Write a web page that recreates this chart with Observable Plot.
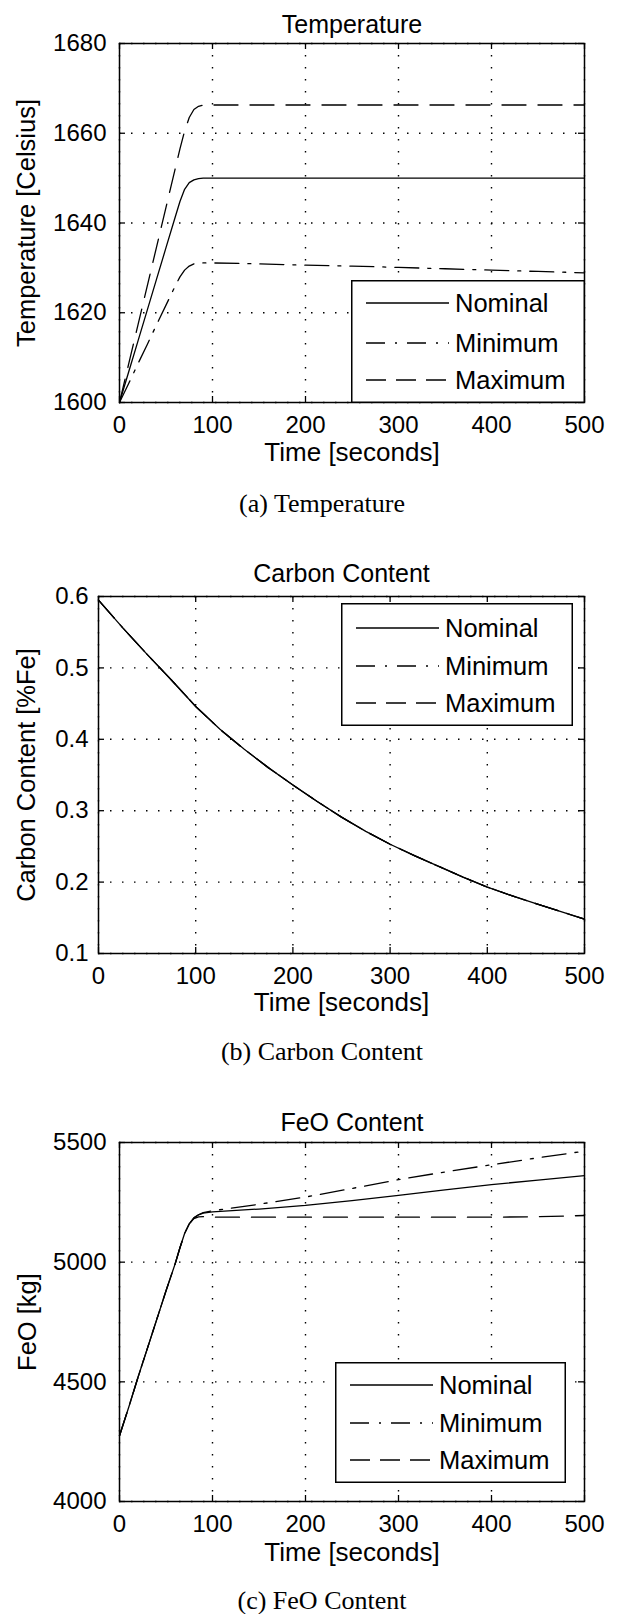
<!DOCTYPE html>
<html><head><meta charset="utf-8">
<script src="https://cdn.jsdelivr.net/npm/d3@7"></script>
<script src="https://cdn.jsdelivr.net/npm/@observablehq/plot@0.6"></script>
<style>
body{margin:0;background:#fff;}
#root{position:relative;width:620px;height:1614px;overflow:hidden;background:#fff;}
.cap{position:absolute;left:0;width:644px;text-align:center;font-family:"Liberation Serif","DejaVu Serif",serif;font-size:26px;line-height:24px;height:24px;color:#000;}
.pan{position:absolute;left:0;}
</style></head><body><div id="root"></div>
<script>
// ---------- data ----------
const xTicks = [0, 100, 200, 300, 400, 500];
const seriesNames = ["Nominal", "Minimum", "Maximum"];

// (a) Temperature [Celsius]
const tempTime    = [0, 10, 20, 30, 40, 50, 60, 65, 70, 75, 80, 85, 90, 95, 100, 150, 200, 250, 300, 350, 400, 450, 500];
const tempNominal = [1600, 1606.9, 1613.8, 1620.7, 1627.6, 1634.5, 1641.4, 1644.8, 1647.5, 1649, 1649.6, 1649.9, 1650, 1650, 1650, 1650, 1650, 1650, 1650, 1650, 1650, 1650, 1650];
const tempMinimum = [1600, 1604.3, 1608.7, 1613, 1617.4, 1621.7, 1626, 1628, 1629.5, 1630.4, 1630.9, 1631.1, 1631.1, 1631.1, 1631.1, 1630.9, 1630.6, 1630.4, 1630.1, 1629.8, 1629.5, 1629.2, 1628.9];
const tempMaximum = [1600, 1608.7, 1617.4, 1626.1, 1634.8, 1643.5, 1652.2, 1656.5, 1660.5, 1663.5, 1665.3, 1666, 1666.3, 1666.3, 1666.3, 1666.3, 1666.3, 1666.3, 1666.3, 1666.3, 1666.3, 1666.3, 1666.3];
const tempTicks   = [1600, 1620, 1640, 1660, 1680];

// (b) Carbon Content [%Fe]
const carbonTime    = [0, 25, 50, 75, 100, 125, 150, 175, 200, 225, 250, 275, 300, 325, 350, 375, 400, 425, 450, 475, 500];
const carbonNominal = [0.595, 0.556, 0.519, 0.483, 0.446, 0.414, 0.386, 0.360, 0.336, 0.313, 0.291, 0.271, 0.253, 0.237, 0.222, 0.207, 0.193, 0.181, 0.170, 0.159, 0.148];
const carbonMinimum = [0.595, 0.556, 0.519, 0.483, 0.446, 0.414, 0.386, 0.360, 0.336, 0.313, 0.291, 0.271, 0.253, 0.237, 0.222, 0.207, 0.193, 0.181, 0.170, 0.159, 0.148];
const carbonMaximum = [0.595, 0.556, 0.519, 0.483, 0.446, 0.414, 0.386, 0.360, 0.336, 0.313, 0.291, 0.271, 0.253, 0.237, 0.222, 0.207, 0.193, 0.181, 0.170, 0.159, 0.148];
const carbonTicks   = [0.1, 0.2, 0.3, 0.4, 0.5, 0.6];

// (c) FeO Content [kg]
const feoTime    = [0, 10, 20, 30, 40, 50, 60, 65, 70, 75, 80, 85, 90, 100, 150, 200, 250, 300, 350, 400, 450, 500];
const feoNominal = [4275, 4395, 4520, 4640, 4760, 4880, 4995, 5060, 5120, 5160, 5185, 5198, 5205, 5210, 5222, 5237, 5257, 5279, 5302, 5324, 5343, 5362];
const feoMinimum = [4275, 4395, 4520, 4640, 4760, 4880, 4995, 5060, 5120, 5160, 5185, 5198, 5207, 5215, 5242, 5272, 5308, 5345, 5377, 5407, 5436, 5464];
const feoMaximum = [4275, 4395, 4520, 4640, 4760, 4880, 4995, 5060, 5120, 5160, 5182, 5189, 5190, 5188, 5188, 5188, 5188, 5188, 5188, 5188, 5190, 5195];
const feoTicks   = [4000, 4500, 5000, 5500];

// ---------- styles ----------
const dashes = {Nominal: null, Minimum: "24,9,3,9", Maximum: "24,12"};
const legendDashes = {Nominal: null, Minimum: "19,10,2,10", Maximum: "20,10"};
const sansFont = "'Liberation Sans', Arial, Helvetica, sans-serif";

const root = document.getElementById("root");

function toRows(time, values) { return time.map((t, i) => ({t, v: values[i]})); }

function makePanel(p) {
  const fh = p.height - p.marginTop - p.marginBottom;
  const fw = 620 - p.marginLeft - p.marginRight;
  const lineMarks = p.series.map((vals, k) => {
    const name = seriesNames[k];
    const opts = {x: "t", y: "v", stroke: "#000", strokeWidth: 1.3};
    if (dashes[name]) opts.strokeDasharray = dashes[name];
    return Plot.line(toRows(p.time, vals), opts);
  });
  const grid = {stroke: "#000", strokeOpacity: 1, strokeWidth: 1.4, strokeDasharray: "1.5,10.5"};
  const chart = Plot.plot({
    width: 620,
    height: p.height,
    marginTop: p.marginTop,
    marginBottom: p.marginBottom,
    marginLeft: p.marginLeft,
    marginRight: p.marginRight,
    style: {fontFamily: sansFont, fontSize: "24px", background: "transparent", color: "#000", overflow: "visible"},
    x: {domain: [0, 500], ticks: xTicks, tickSize: 0, tickPadding: 13, label: null, tickFormat: d => String(d)},
    y: {domain: p.yDomain, ticks: p.yTicks, tickSize: 0, tickPadding: p.tickPad, label: null, tickFormat: d => String(d)},
    marks: [
      Plot.ruleX(xTicks, {x: d => d, ...grid}),
      Plot.ruleY(p.yTicks, {y: d => d, ...grid}),
      ...lineMarks,
      Plot.ruleX(xTicks, {x: d => d, insetTop: fh - 6, stroke: "#000", strokeWidth: 1.3}),
      Plot.ruleX(xTicks, {x: d => d, insetBottom: fh - 6, stroke: "#000", strokeWidth: 1.3}),
      Plot.ruleY(p.yTicks, {y: d => d, insetRight: fw - 6, stroke: "#000", strokeWidth: 1.3}),
      Plot.ruleY(p.yTicks, {y: d => d, insetLeft: fw - 6, stroke: "#000", strokeWidth: 1.3}),
      Plot.frame({stroke: "#000", strokeWidth: 1.5}),
      Plot.text([p.title], {text: d => d, frameAnchor: "top", textAnchor: "middle", dy: p.titleDy, fontSize: 25}),
      Plot.text([p.xLabel], {text: d => d, frameAnchor: "bottom", textAnchor: "middle", dy: p.xLabelDy, fontSize: 26}),
      Plot.text([p.yLabel], {text: d => d, frameAnchor: "left", textAnchor: "middle", dx: p.yLabelDx, rotate: -90, fontSize: 25.5})
    ]
  });
  const wrap = document.createElement("div");
  wrap.className = "pan";
  wrap.style.top = p.top + "px";
  wrap.appendChild(chart);
  root.appendChild(wrap);

  // legend box (layout only)
  const lg = p.legend;
  const svg = d3.select(root).append("svg")
    .style("position", "absolute").style("left", lg.left + "px").style("top", lg.top + "px")
    .attr("width", lg.w).attr("height", lg.h);
  svg.append("rect").attr("x", 0.75).attr("y", 0.75).attr("width", lg.w - 1.5).attr("height", lg.h - 1.5)
    .attr("fill", "#fff").attr("stroke", "#000").attr("stroke-width", 1.5);
  seriesNames.forEach((name, i) => {
    const y = lg.rows[i];
    const ln = svg.append("line").attr("x1", 15).attr("x2", 98).attr("y1", y).attr("y2", y)
      .attr("stroke", "#000").attr("stroke-width", 1.3);
    if (legendDashes[name]) ln.attr("stroke-dasharray", legendDashes[name]);
    svg.append("text").attr("x", 104).attr("y", y).attr("dy", "0.35em")
      .attr("font-family", sansFont).attr("font-size", 25.5).attr("fill", "#000").text(name);
  });

  const cap = document.createElement("div");
  cap.className = "cap";
  cap.style.top = (p.captionY - 12) + "px";
  cap.textContent = p.caption;
  root.appendChild(cap);
}

makePanel({
  top: 0, height: 492, marginTop: 43, marginBottom: 90, marginLeft: 119, marginRight: 36,
  time: tempTime, series: [tempNominal, tempMinimum, tempMaximum],
  yDomain: [1600, 1680], yTicks: tempTicks, tickPad: 13,
  title: "Temperature", titleDy: -28,
  xLabel: "Time [seconds]", xLabelDy: 58,
  yLabel: "Temperature [Celsius]", yLabelDx: -93,
  legend: {left: 351, top: 280, w: 234, h: 123, rows: [23, 63, 100]},
  caption: "(a) Temperature", captionY: 504
});

makePanel({
  top: 530, height: 513, marginTop: 66, marginBottom: 90, marginLeft: 98, marginRight: 36,
  time: carbonTime, series: [carbonNominal, carbonMinimum, carbonMaximum],
  yDomain: [0.1, 0.6], yTicks: carbonTicks, tickPad: 10,
  title: "Carbon Content", titleDy: -32,
  xLabel: "Time [seconds]", xLabelDy: 57,
  yLabel: "Carbon Content [%Fe]", yLabelDx: -72,
  legend: {left: 341, top: 603, w: 232, h: 123, rows: [25, 63, 100]},
  caption: "(b) Carbon Content", captionY: 1052
});

makePanel({
  top: 1075, height: 518, marginTop: 67, marginBottom: 92, marginLeft: 119, marginRight: 36,
  time: feoTime, series: [feoNominal, feoMinimum, feoMaximum],
  yDomain: [4000, 5500], yTicks: feoTicks, tickPad: 13,
  title: "FeO Content", titleDy: -29,
  xLabel: "Time [seconds]", xLabelDy: 59,
  yLabel: "FeO [kg]", yLabelDx: -92,
  legend: {left: 335, top: 1362, w: 231, h: 121, rows: [23, 61, 98]},
  caption: "(c) FeO Content", captionY: 1601
});
</script>
</body></html>
